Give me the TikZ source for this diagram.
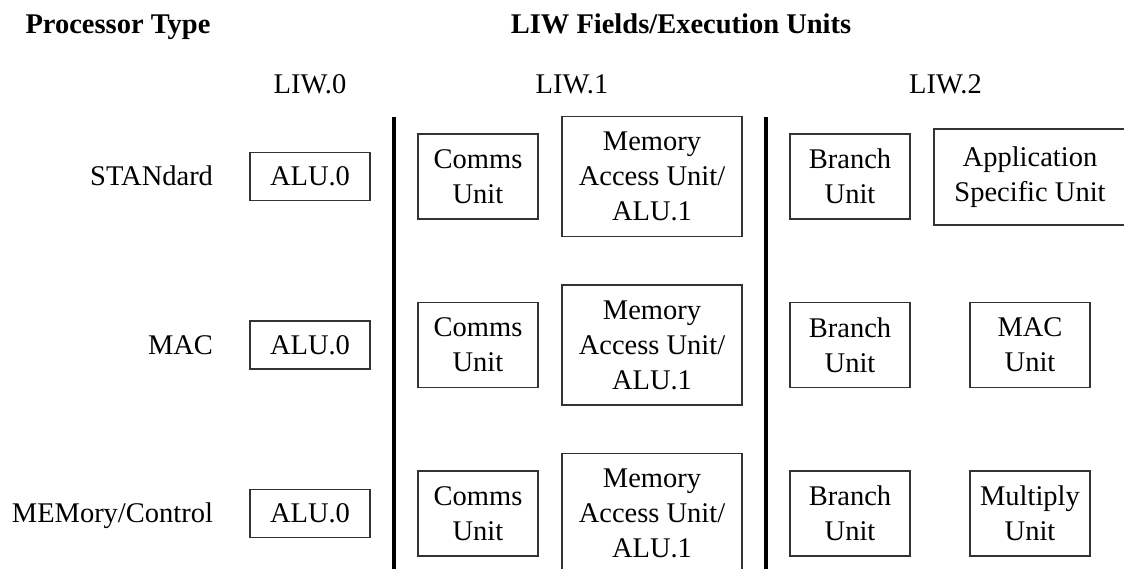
\documentclass[tikz,border=0pt]{standalone}
\usepackage{fontspec}
\setmainfont{Liberation Serif}
\newcommand{\unitfont}{\fontsize{28.5}{35}\selectfont}
\begin{document}
\begin{tikzpicture}[x=1pt,y=-1pt,
  txt/.style={inner sep=0pt, outer sep=0pt, font=\unitfont},
  head/.style={txt, font=\unitfont\bfseries},
  unitbox/.style={draw=black!80, line width=1.2pt, inner sep=0pt, outer sep=0pt,
                  align=center, font=\unitfont},
  smallbox/.style={unitbox, minimum width=120pt, minimum height=48pt},
  midbox/.style={unitbox, minimum width=120pt, minimum height=85pt},
  bigbox/.style={unitbox, minimum width=180pt, minimum height=120pt},
  divider/.style={line width=4pt, black}]
\useasboundingbox (0,0) rectangle (1124,569);

% column headings
\node[head, anchor=base] (ptype) at (118,33.5) {Processor Type};
\node[head, anchor=base] (fields) at (681,33.5) {LIW Fields/Execution Units};
\node[txt, anchor=base] (liw0) at (310,94) {LIW.0};
\node[txt, anchor=base] (liw1) at (572,94) {LIW.1};
\node[txt, anchor=base] (liw2) at (945.5,94) {LIW.2};

% field separators
\coordinate (d1top) at (393.5,117);
\coordinate (d1bot) at (393.5,569);
\coordinate (d2top) at (766,117);
\coordinate (d2bot) at (766,569);
\draw[divider] (d1top) -- (d1bot);
\draw[divider] (d2top) -- (d2bot);

% right edge of the processor type labels
\coordinate (labx) at (213,0);

% common units of every processor type
\foreach \r/\y/\lab in {1/176.5/STANdard, 2/345/MAC, 3/513.5/{MEMory/Control}}{
  \node[smallbox] (alu\r) at (310,\y) {ALU.0};
  \node[txt, anchor=base east] (type\r) at (alu\r.base -| labx) {\lab};
  \node[midbox] (comms\r) at (478,\y) {Comms\\Unit};
  \node[bigbox] (mem\r) at (652,\y) {Memory\\Access Unit/\\ALU.1};
  \node[midbox] (branch\r) at (850,\y) {Branch\\Unit};
}

% type-specific units in LIW.2
\node[unitbox, minimum width=192pt, minimum height=96pt] (asu) at (1030,177)
  {Application\\Specific Unit};
\node[midbox] (macu) at (1030,345) {MAC\\Unit};
\node[midbox] (mulu) at (1030,513.5) {Multiply\\Unit};
\end{tikzpicture}
\end{document}
